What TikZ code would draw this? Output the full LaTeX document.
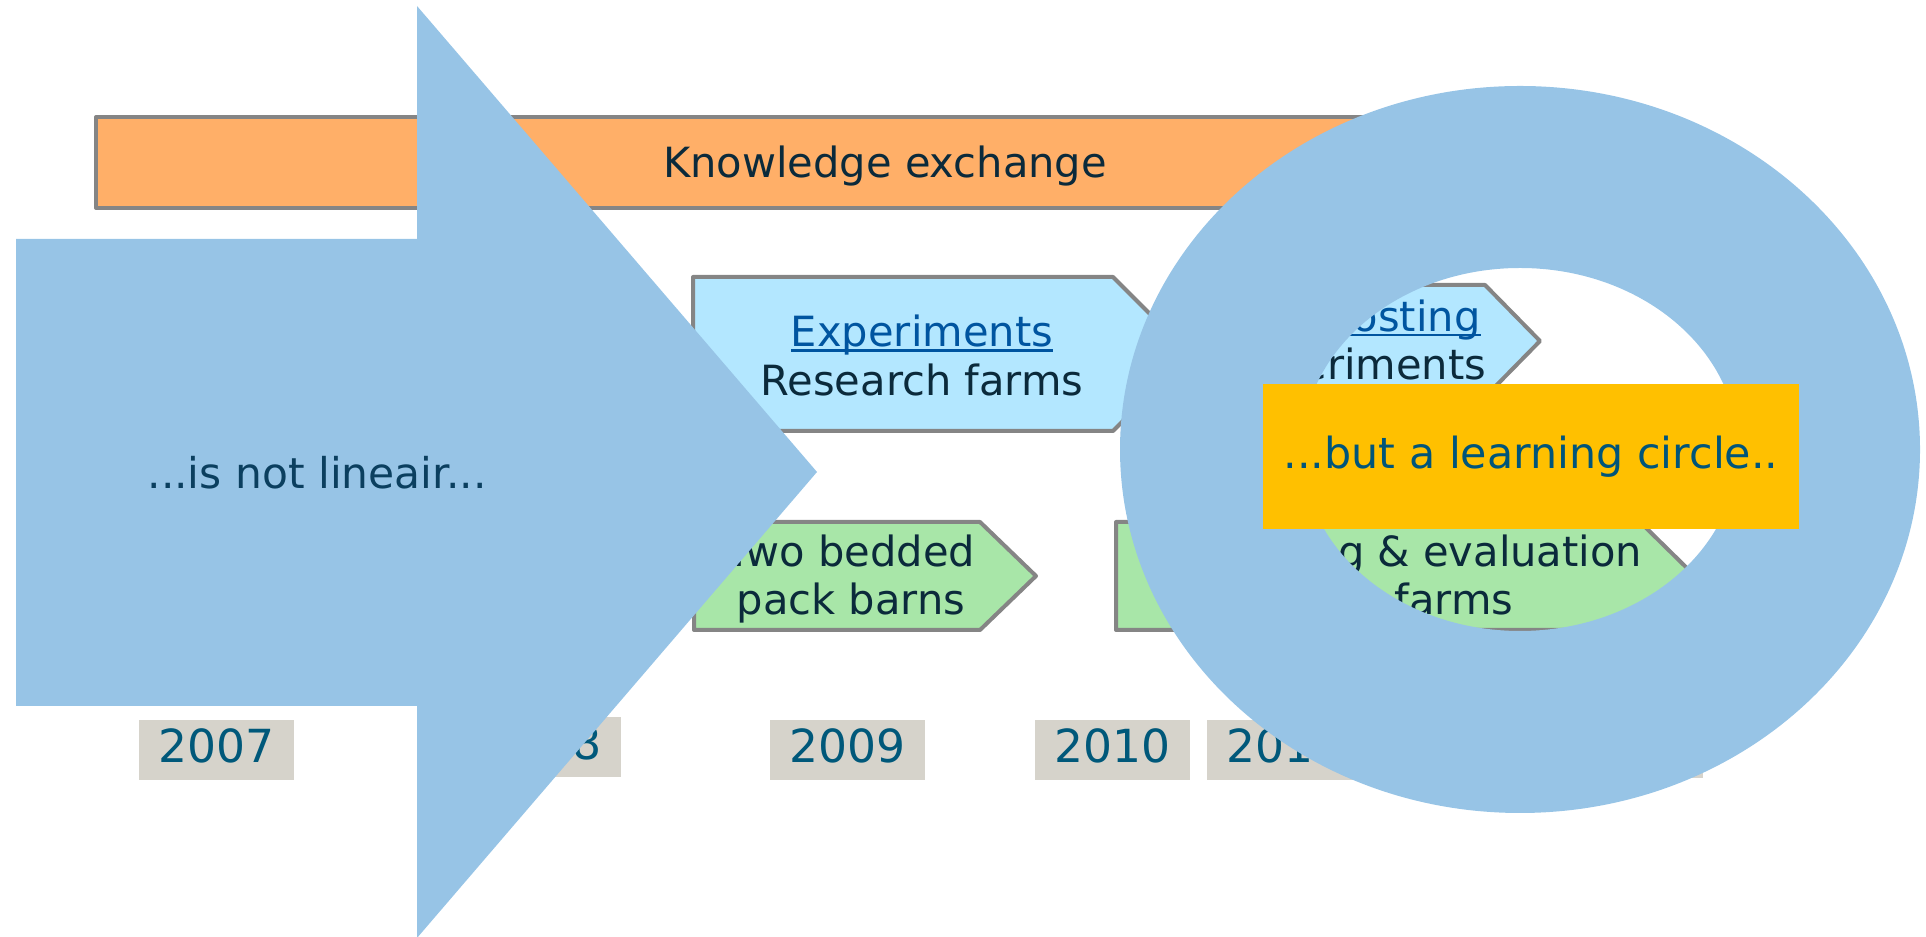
\documentclass[tikz,border=0pt]{standalone}
\usepackage{fontspec}
\setmainfont{DejaVu Sans}

\definecolor{barorange}{HTML}{FFAF68}
\definecolor{expblue}{HTML}{B3E7FF}
\definecolor{farmgreen}{HTML}{A8E6A8}
\definecolor{edgegray}{HTML}{858585}
\definecolor{shapeblue}{HTML}{97C4E6}
\definecolor{circlegold}{HTML}{FFC000}
\definecolor{yearfill}{HTML}{D6D3CB}
\definecolor{yeartext}{HTML}{00587A}
\definecolor{darktext}{HTML}{0B2A3B}
\definecolor{linkblue}{HTML}{0055A0}
\definecolor{arrowtext}{HTML}{0B3F5F}
\definecolor{circletext}{HTML}{00557A}

% underline that crosses the descenders, as in the slide
\newcommand{\linkul}[1]{\setbox0=\hbox{#1}\rlap{\rule[-0.12em]{\wd0}{0.065em}}\box0}
% same height and depth for every line
\newcommand{\ls}{\rule[-1pt]{0pt}{10pt}}

\begin{document}
\begin{tikzpicture}[x=0.25pt, y=-0.25pt,
        box/.style={draw=edgegray, line width=1pt, line join=round},
        txt/.style={align=center, text=darktext, inner sep=0pt, font=\fontsize{10.4}{12.1}\selectfont},
        yearbox/.style={fill=yearfill, minimum width=38.75pt, minimum height=15pt, inner sep=0pt,
            text=yeartext, text depth=2.25pt, font=\fontsize{11.4}{13}\selectfont}]
    \useasboundingbox (0,0) rectangle (1926,937);

    \draw[box, fill=barorange] (96,117) rectangle (1674,208);
    \node[txt] (knowledge) at (885,164) {\ls Knowledge exchange};

    \draw[box, fill=expblue] (693,277) -- (1113,277) -- (1190,354) -- (1113,431) -- (693,431) -- cycle;
    \node[txt] (experiments) at (922,355) {\ls\textcolor{linkblue}{\linkul{Experiments}}\\\ls Research farms};

    \draw[box, fill=expblue] (1200,285) -- (1485,285) -- (1540,341) -- (1485,397) -- (1200,397) -- cycle;
    \node[txt] (composting) at (1356,342) {\ls\textcolor{linkblue}{\linkul{Composting}}\\\ls experiments};

    \draw[box, fill=farmgreen] (694,522) -- (980,522) -- (1036,576) -- (980,630) -- (694,630) -- cycle;
    \node[txt] (bedded) at (851,577) {\ls Two bedded\\\ls pack barns};

    \draw[box, fill=farmgreen] (1116,522) -- (1640,522) -- (1695,576) -- (1640,630) -- (1116,630) -- cycle;
    \node[txt] (monitoring) at (1392,577) {\ls Monitoring \& evaluation\\\ls Dairy farms};

    \foreach \yr/\xc/\yc in {2007/216.5/750, 2008/543.5/747, 2009/847.5/750,
                             2010/1112.5/750, 2011/1284.5/750, 2012/1625.5/748}
        \node[yearbox] (y\yr) at (\xc,\yc) {\yr};

    % big arrow
    \fill[shapeblue] (16,239) -- (417,239) -- (417,6) -- (817,472) -- (417,938) -- (417,706) -- (16,706) -- cycle;
    \node[txt, text=arrowtext, font=\fontsize{10.6}{12.1}\selectfont] (notlinear) at (317,473) {\ls...is not lineair...};

    % ring
    \fill[shapeblue, even odd rule] (1520,449.5) ellipse [x radius=400, y radius=363.5]
        (1520,449.5) ellipse [x radius=218, y radius=181.5];

    \fill[circlegold] (1263,384) rectangle (1799,529);
    \node[txt, text=circletext, font=\fontsize{10.7}{12.1}\selectfont] (learning) at (1531,455) {\ls...but a learning circle..};
\end{tikzpicture}
\end{document}
